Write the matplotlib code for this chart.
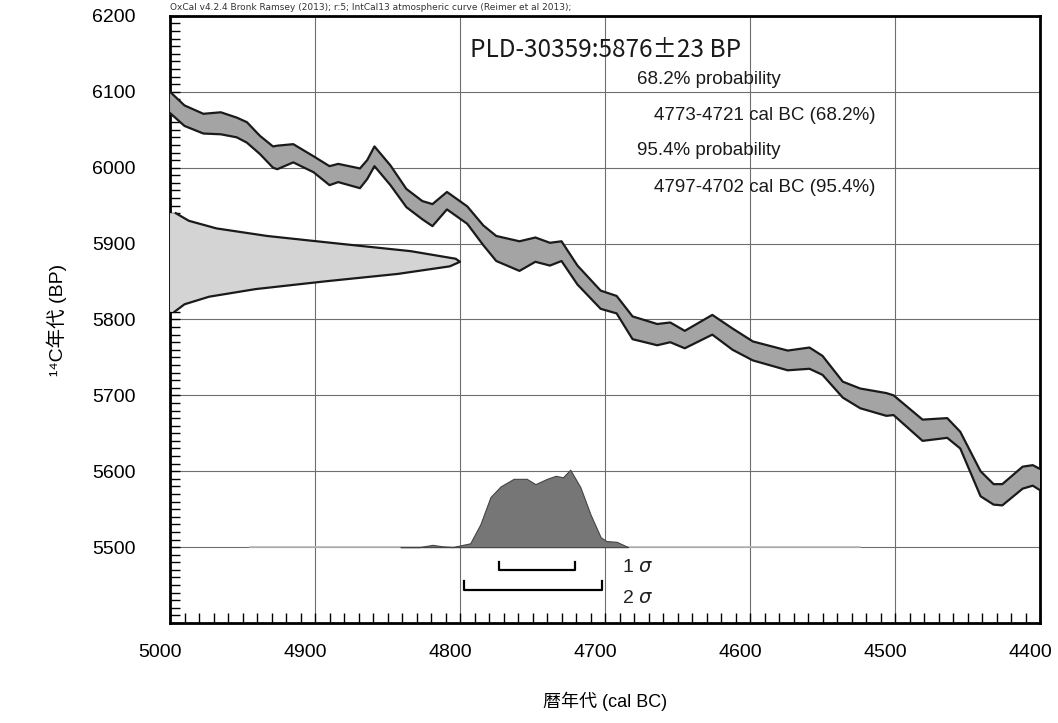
import numpy as np
import matplotlib
matplotlib.use('Agg')
import matplotlib.pyplot as plt
import matplotlib.transforms as mtransforms

plt.rcParams['font.family'] = ['Liberation Sans', 'Noto Sans CJK JP', 'DejaVu Sans']

# IntCal13 band (cal BC, upper / lower BP)
cal_x = [5000, 4990, 4977, 4965, 4954, 4947, 4938, 4929, 4926, 4915, 4901, 4890, 4884,
         4869, 4864, 4859, 4848, 4837, 4826, 4819, 4809, 4795, 4784, 4775, 4759, 4748,
         4738, 4730, 4719, 4703, 4692, 4681, 4664, 4655, 4645, 4626, 4612, 4598, 4574,
         4559, 4550, 4536, 4524, 4506, 4501, 4481, 4464, 4455, 4441, 4432, 4426, 4412,
         4405, 4400]
band_hi = [6100, 6082, 6071, 6073, 6066, 6060, 6042, 6028, 6029, 6031, 6015, 6002, 6005,
           5999, 6010, 6028, 6003, 5972, 5956, 5952, 5968, 5949, 5924, 5910, 5903, 5908,
           5901, 5903, 5871, 5838, 5831, 5804, 5794, 5796, 5785, 5806, 5788, 5771, 5759,
           5763, 5752, 5718, 5709, 5703, 5700, 5668, 5670, 5652, 5600, 5583, 5583, 5606,
           5608, 5603]
band_lo = [6072, 6055, 6045, 6044, 6040, 6033, 6018, 6000, 5998, 6007, 5994, 5977, 5981,
           5973, 5985, 6002, 5977, 5948, 5932, 5923, 5945, 5926, 5898, 5877, 5864, 5876,
           5871, 5877, 5846, 5814, 5808, 5774, 5766, 5770, 5762, 5780, 5760, 5746, 5733,
           5735, 5727, 5697, 5683, 5673, 5674, 5640, 5644, 5630, 5567, 5556, 5555, 5577,
           5581, 5575]

# measured date 5876+-23 BP drawn on the y axis (BP, width in years)
meas_bp = [5940, 5930, 5920, 5910, 5900, 5890, 5880, 5876, 5870, 5860, 5850, 5840, 5830,
           5820, 5810]
meas_w = [4, 13, 32, 67, 116, 166, 197, 200, 193, 157, 106, 59, 27, 10, 3]

# calibrated distribution (cal BC, height in BP units above baseline)
dist_x = [4841, 4828, 4819, 4812, 4805, 4798, 4793, 4786, 4779, 4772, 4763, 4754, 4748,
          4740, 4734, 4729, 4724, 4717, 4710, 4703, 4699, 4692, 4684]
dist_h = [0, 0, 3, 1, 0, 3, 5, 30, 66, 80, 90, 90, 83, 90, 94, 92, 102, 79, 43, 13, 8, 7, 0]
dist_base = 5500
dist_span = [4945, 4524]

sig1 = [4773, 4721]
sig2 = [4797, 4702]

title = 'OxCal v4.2.4 Bronk Ramsey (2013); r:5; IntCal13 atmospheric curve (Reimer et al 2013);'
sample = 'PLD-30359:5876±23 BP'
lines = ['68.2% probability', '4773-4721 cal BC (68.2%)',
         '95.4% probability', '4797-4702 cal BC (95.4%)']

fig = plt.figure(figsize=(10.58, 7.23), dpi=100)
ax = fig.add_axes([0.1607, 0.1383, 0.8223, 0.8397])

ax.set_xlim(5000, 4400)
ax.set_ylim(5400, 6200)

ax.set_xticks(np.arange(5000, 4399, -100))
ax.set_xticks(np.arange(5000, 4399, -10), minor=True)
ax.set_yticks(np.arange(5500, 6201, 100))
ax.set_yticks(np.arange(5400, 6201, 10), minor=True)
ax.grid(True, which='major', color='#6e6e6e', lw=0.8)
ax.set_axisbelow(True)
ax.tick_params(which='both', direction='in', length=7, width=1.0, color='k',
               top=False, right=False)
ax.tick_params(axis='x', which='major', pad=15, labelsize=14)
ax.tick_params(axis='y', which='major', pad=25, labelsize=14)
for s in ax.spines.values():
    s.set_linewidth(2)

# x labels sit a little left of their ticks in the original
shift = mtransforms.ScaledTranslation(-10 / 100, 0, fig.dpi_scale_trans)
for lbl in ax.get_xticklabels():
    lbl.set_transform(lbl.get_transform() + shift)

# calibration band
poly_x = cal_x + cal_x[::-1]
poly_y = band_hi + band_lo[::-1]
ax.fill(poly_x, poly_y, facecolor='#a4a4a4', edgecolor='none', zorder=3)
ax.plot(cal_x, band_hi, color='#1a1a1a', lw=1.6, zorder=4)
ax.plot(cal_x, band_lo, color='#1a1a1a', lw=1.6, zorder=4)

# measured date
mx = [5000 - w for w in meas_w]
ax.fill_betweenx(meas_bp, 5000, mx, facecolor='#d4d4d4', edgecolor='none', zorder=3)
ax.plot(mx, meas_bp, color='#1a1a1a', lw=1.6, zorder=4)

# calibrated distribution
ax.plot(dist_span, [dist_base, dist_base], color='#b8b8b8', lw=1.2, zorder=3)
dy = [dist_base + h for h in dist_h]
ax.fill_between(dist_x, dist_base, dy, facecolor='#767676', edgecolor='#444444',
                lw=0.8, zorder=4)

# sigma ranges
for rng, yy, ty, lab in [(sig1, 5470, 5473, r'1 $\sigma$'), (sig2, 5444, 5432, r'2 $\sigma$')]:
    ax.plot([rng[0], rng[0], rng[1], rng[1]], [yy + 11, yy, yy, yy + 11],
            color='k', lw=1.6, zorder=5)
    ax.text(4688, ty, lab, fontsize=14, va='center', ha='left', color='#222222')

ax.text(0.0, 1.006, title, transform=ax.transAxes, fontsize=6.5, ha='left', va='bottom',
        family=['DejaVu Sans'], color='#333333')
ax.text(0.345, 0.965, sample, transform=ax.transAxes, fontsize=17.5, ha='left',
        va='top', color='#1a1a1a', family=['Noto Sans CJK JP', 'DejaVu Sans'])
ys = [6116, 6069, 6022, 5974]
xs = [4678, 4666, 4678, 4666]
for t, xx, yy in zip(lines, xs, ys):
    ax.text(xx, yy, t, fontsize=13.5, ha='left', va='center', color='#1a1a1a')

ax.set_xlabel('暦年代 (cal BC)', fontsize=13, labelpad=22)
ax.set_ylabel('¹⁴C年代 (BP)', fontsize=14)
ax.yaxis.set_label_coords(-0.118, 0.5)

fig.savefig('out.png', dpi=100)
